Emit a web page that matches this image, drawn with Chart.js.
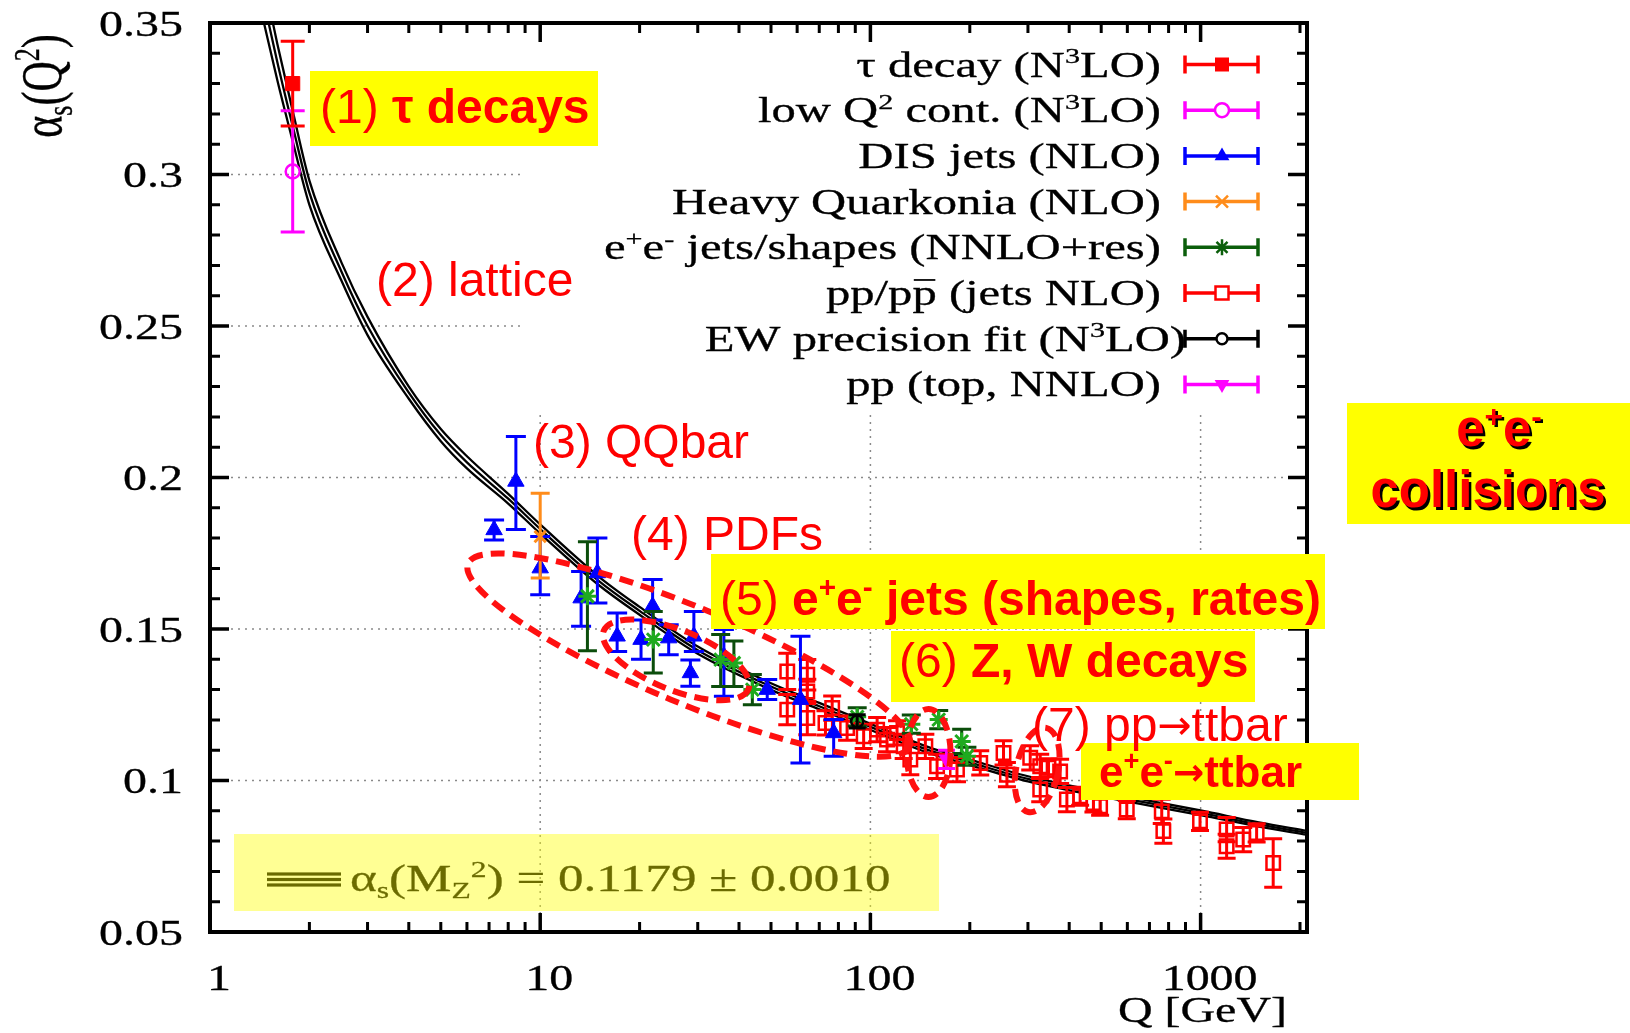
<!DOCTYPE html>
<html>
<head>
<meta charset="utf-8">
<script src="https://cdn.jsdelivr.net/npm/chart.js@4.4.1/dist/chart.umd.min.js"></script>
<style>
  html,body{margin:0;padding:0;background:#fff}
  #wrap{width:1630px;height:1033px;position:relative}
</style>
</head>
<body>
<div id="wrap"><canvas id="c" width="1630" height="1033"></canvas></div>
<script>
// ---- data (Q in GeV, alpha_s) ----
const curveQ     = [1.45, 1.6, 1.78, 2, 2.5, 3, 4, 5, 6, 8, 10, 15, 20, 30, 50, 70, 91.2, 150, 200, 300, 500, 700, 1000, 1500, 2100];
const curveMid   = [0.358, 0.337, 0.316, 0.294, 0.268, 0.250, 0.228, 0.214, 0.205, 0.193, 0.183, 0.166, 0.156, 0.143, 0.131, 0.1245, 0.1195, 0.110, 0.106, 0.1005, 0.0955, 0.0925, 0.0893, 0.0855, 0.0827];
const curveUpper = [0.365, 0.343, 0.321, 0.298, 0.271, 0.253, 0.230, 0.216, 0.207, 0.1946, 0.1845, 0.1674, 0.1573, 0.1442, 0.1321, 0.1256, 0.1205, 0.1110, 0.1069, 0.1014, 0.0963, 0.0933, 0.0901, 0.0862, 0.0834];
const curveLower = [0.351, 0.331, 0.311, 0.290, 0.265, 0.247, 0.226, 0.212, 0.203, 0.1914, 0.1815, 0.1646, 0.1547, 0.1418, 0.1299, 0.1235, 0.1185, 0.1091, 0.1051, 0.0997, 0.0947, 0.0917, 0.0886, 0.0848, 0.0821];

const tauQ = [1.78], tauA = [0.330], tauErr = [0.014];
const lowQ2Q = [1.78], lowQ2A = [0.301], lowQ2Err = [0.020];

const disQ  = [7.25, 8.44, 10.0, 13.3, 14.9, 17.1, 20.2, 21.9, 24.5, 29.2, 28.5, 36.0, 48.7, 61.4, 77.4];
const disA  = [0.1827, 0.1987, 0.1701, 0.1602, 0.1685, 0.1476, 0.1465, 0.1575, 0.147, 0.1476, 0.1355, 0.141, 0.130, 0.1267, 0.1157];
const disUp = [0.0033, 0.0148, 0.0104, 0.0088, 0.0115, 0.0077, 0.0065, 0.0088, 0.0044, 0.0082, 0.0043, 0.0088, 0.0033, 0.0209, 0.0044];
const disDn = [0.0033, 0.0159, 0.0088, 0.0093, 0.0099, 0.0050, 0.0065, 0.0045, 0.0055, 0.0050, 0.0044, 0.0132, 0.0033, 0.0209, 0.0077];

const hqQ = [10.0], hqA = [0.1805], hqUp = [0.0143], hqDn = [0.0137];

const eeQ  = [13.9, 22.0, 35.2, 38.6, 43.9, 91.2, 133, 161, 189, 196];
const eeA  = [0.1608, 0.1465, 0.1399, 0.1388, 0.130, 0.121, 0.1186, 0.1201, 0.1129, 0.108];
const eeUp = [0.018, 0.0093, 0.0083, 0.0072, 0.005, 0.003, 0.003, 0.003, 0.004, 0.003];
const eeDn = [0.018, 0.0110, 0.0089, 0.0078, 0.005, 0.003, 0.003, 0.003, 0.004, 0.003];

const ppQ   = [56.0, 56.0, 64.4, 64.4, 64.4, 76.6, 73.1, 85.0, 95.4, 104.8, 112.3, 120.4, 126.1, 132.1, 146.7, 159.2, 182.9, 215.1, 253.0, 259.1, 304.8, 326.8, 346.2, 375.5, 326.8, 393.6, 431.7, 473.6, 496.2, 597.6, 762.6, 771.3, 995.9, 1199, 1199, 1346, 1478, 1659];
const ppA   = [0.136, 0.1234, 0.1349, 0.1294, 0.1206, 0.1239, 0.119, 0.1173, 0.1146, 0.1168, 0.1135, 0.1157, 0.1113, 0.1069, 0.1113, 0.1047, 0.1036, 0.1058, 0.1091, 0.1019, 0.1075, 0.1047, 0.1042, 0.103, 0.097, 0.0937, 0.0948, 0.0926, 0.0915, 0.0904, 0.0898, 0.0833, 0.0865, 0.0838, 0.0783, 0.0805, 0.0827, 0.0728];
const ppErr = [0.006, 0.005, 0.005, 0.004, 0.0055, 0.004, 0.004, 0.004, 0.004, 0.004, 0.004, 0.004, 0.004, 0.005, 0.004, 0.004, 0.004, 0.004, 0.004, 0.004, 0.004, 0.004, 0.003, 0.004, 0.004, 0.004, 0.003, 0.003, 0.003, 0.003, 0.004, 0.004, 0.003, 0.004, 0.004, 0.004, 0.003, 0.008];

const ewQ = [91.2], ewA = [0.1195], ewErr = [0.0022];
const topQ = [170], topA = [0.107], topErr = [0.003];

const xTickValues = [1, 10, 100, 1000];
const xTickLabels = ['1', '10', '100', '1000'];
const yTickValues = [0.05, 0.1, 0.15, 0.2, 0.25, 0.3, 0.35];
const yTickLabels = ['0.05', '0.1', '0.15', '0.2', '0.25', '0.3', '0.35'];
const xGridValues = [10, 100, 1000];
const yGridValues = [0.1, 0.15, 0.2, 0.25, 0.3];

// ---- look ----
const SERIF = '"Liberation Serif", "Times New Roman", serif';
const SANS = '"Liberation Sans", Arial, sans-serif';
const ARROW = '"DejaVu Sans", sans-serif';
const SX = 1.37; // the original plot is stretched sideways

function pts(qs, as){ return qs.map((q, i) => ({x: q, y: as[i]})); }

// small rich-text writer: segments with sup / sub / bold / overline / own font
function rich(ctx, segs, x, y, o){
  const sx = o.sx || 1;
  segs = segs.map(s => typeof s === 'string' ? {t: s} : s);
  const fontOf = s => ((s.b || o.bold) ? 'bold ' : '') + ((s.sup || s.sub) ? o.size * 0.62 : o.size * (s.k || 1)) + 'px ' + (s.f || o.family);
  let w = 0;
  segs.forEach(s => { ctx.font = fontOf(s); s.w = ctx.measureText(s.t).width; w += s.w; });
  let x0 = x;
  if(o.align === 'right') x0 = x - w * sx;
  else if(o.align === 'center') x0 = x - w * sx / 2;
  ctx.save();
  ctx.translate(x0, y); ctx.scale(sx, 1);
  ctx.fillStyle = o.color || '#000';
  ctx.strokeStyle = o.color || '#000';
  ctx.lineWidth = o.heavy || 0;
  ctx.textAlign = 'left'; ctx.textBaseline = 'alphabetic';
  let cx = 0;
  segs.forEach(s => {
    ctx.font = fontOf(s);
    const dy = s.sup ? -o.size * 0.38 : (s.sub ? o.size * 0.2 : (s.dy || 0));
    ctx.fillText(s.t, cx, dy);
    if(o.heavy) ctx.strokeText(s.t, cx, dy);
    if(s.over) ctx.fillRect(cx + 1, -o.size * 0.74, s.w - 2, Math.max(1.5, o.size * 0.05));
    cx += s.w;
  });
  ctx.restore();
  return w * sx;
}

function marker(ctx, kind, x, y, color){
  ctx.save();
  ctx.strokeStyle = color; ctx.fillStyle = color; ctx.lineWidth = 2.5;
  ctx.beginPath();
  if(kind === 'rectFill'){ ctx.fillRect(x - 7, y - 7, 14, 14); }
  else if(kind === 'rectOpen'){ ctx.fillStyle = '#fff'; ctx.fillRect(x - 6.5, y - 6.5, 13, 13); ctx.strokeRect(x - 6.5, y - 6.5, 13, 13); }
  else if(kind === 'circle'){ ctx.fillStyle = '#fff'; ctx.arc(x, y, 7, 0, Math.PI * 2); ctx.fill(); ctx.stroke(); }
  else if(kind === 'circleSmall'){ ctx.fillStyle = '#fff'; ctx.arc(x, y, 5.5, 0, Math.PI * 2); ctx.fill(); ctx.stroke(); }
  else if(kind === 'tri'){ ctx.moveTo(x, y - 8.5); ctx.lineTo(x + 7.4, y + 4.3); ctx.lineTo(x - 7.4, y + 4.3); ctx.closePath(); ctx.fill(); }
  else if(kind === 'triDown'){ ctx.moveTo(x, y + 8.5); ctx.lineTo(x + 7.4, y - 4.3); ctx.lineTo(x - 7.4, y - 4.3); ctx.closePath(); ctx.fill(); }
  else if(kind === 'x'){ ctx.moveTo(x - 6, y - 6); ctx.lineTo(x + 6, y + 6); ctx.moveTo(x + 6, y - 6); ctx.lineTo(x - 6, y + 6); ctx.stroke(); }
  else if(kind === 'star'){
    ctx.moveTo(x - 5.5, y - 5.5); ctx.lineTo(x + 5.5, y + 5.5); ctx.moveTo(x + 5.5, y - 5.5); ctx.lineTo(x - 5.5, y + 5.5);
    ctx.moveTo(x, y - 8); ctx.lineTo(x, y + 8); ctx.moveTo(x - 8, y); ctx.lineTo(x + 8, y); ctx.stroke();
  }
  ctx.restore();
}

// legend rows: text, colour, marker
const legendText = [
  ['τ decay (N', {t:'3', sup:true}, 'LO)'],
  ['low Q', {t:'2', sup:true}, ' cont. (N', {t:'3', sup:true}, 'LO)'],
  ['DIS jets (NLO)'],
  ['Heavy Quarkonia (NLO)'],
  ['e', {t:'+', sup:true}, 'e', {t:'-', sup:true}, ' jets/shapes (NNLO+res)'],
  ['pp/p', {t:'p', over:true}, ' (jets NLO)'],
  ['EW precision fit (N', {t:'3', sup:true}, 'LO)'],
  ['pp (top, NNLO)']
];
const legendColor = ['#ff0000', '#ff00ff', '#0000ff', '#ff8c1a', '#0b5e0b', '#ff0000', '#000000', '#ff00ff'];
const legendMarker = ['rectFill', 'circle', 'tri', 'x', 'star', 'rectOpen', 'circleSmall', 'triDown'];

// error bars go under each dataset's markers
const errorBars = {
  id: 'errorBars',
  beforeDatasetDraw(chart, args){
    const ds = chart.data.datasets[args.index];
    if(!ds.errUp) return;
    const ctx = chart.ctx, ys = chart.scales.y;
    ctx.save();
    ctx.strokeStyle = ds.barColor; ctx.lineWidth = 3;
    args.meta.data.forEach((pt, i) => {
      const v = ds.data[i].y;
      const top = ys.getPixelForValue(v + ds.errUp[i]);
      const bot = ys.getPixelForValue(v - ds.errDn[i]);
      const w = ds.capWidth / 2;
      ctx.beginPath();
      ctx.moveTo(pt.x, top); ctx.lineTo(pt.x, bot);
      ctx.moveTo(pt.x - w, top); ctx.lineTo(pt.x + w, top);
      ctx.moveTo(pt.x - w, bot); ctx.lineTo(pt.x + w, bot);
      ctx.stroke();
    });
    ctx.restore();
  }
};

// dotted grid and the white legend panel
const backdrop = {
  id: 'backdrop',
  beforeDatasetsDraw(chart){
    const {ctx, chartArea: a, scales: {x, y}} = chart;
    ctx.save();
    ctx.strokeStyle = '#8a8a8a'; ctx.lineWidth = 1.5; ctx.setLineDash([2, 5]);
    yGridValues.forEach(v => { const p = y.getPixelForValue(v); ctx.beginPath(); ctx.moveTo(a.left, p); ctx.lineTo(a.right, p); ctx.stroke(); });
    xGridValues.forEach(v => { const p = x.getPixelForValue(v); ctx.beginPath(); ctx.moveTo(p, a.top); ctx.lineTo(p, a.bottom); ctx.stroke(); });
    ctx.setLineDash([]);
    ctx.fillStyle = '#fff';
    ctx.fillRect(525, a.top + 2, a.right - 525, 408 - a.top);
    ctx.restore();
  }
};

// frame, ticks, labels, legend and the slide annotations
const overlay = {
  id: 'overlay',
  afterDatasetsDraw(chart){
    const {ctx, chartArea: a, scales: {x, y}} = chart;
    ctx.save();
    // ticks (inward, mirrored)
    ctx.strokeStyle = '#000';
    for(let i = 6; i < 35; i++){
      const major = i % 5 === 0, len = major ? 19 : 10, p = y.getPixelForValue(i / 100);
      ctx.lineWidth = major ? 3.5 : 3;
      ctx.beginPath(); ctx.moveTo(a.left, p); ctx.lineTo(a.left + len, p); ctx.moveTo(a.right, p); ctx.lineTo(a.right - len, p); ctx.stroke();
    }
    for(let n = 0; n < 4; n++){
      for(let k = 1; k < 10; k++){
        const v = k * Math.pow(10, n);
        if(v <= 1 || v >= 2100) continue;
        const major = k === 1, len = major ? 19 : 10, p = x.getPixelForValue(v);
        ctx.lineWidth = major ? 3.5 : 3;
        ctx.beginPath(); ctx.moveTo(p, a.bottom); ctx.lineTo(p, a.bottom - len); ctx.moveTo(p, a.top); ctx.lineTo(p, a.top + len); ctx.stroke();
      }
    }
    ctx.lineWidth = 4;
    ctx.strokeRect(a.left, a.top, a.right - a.left, a.bottom - a.top);

    const serif = {size: 35, family: SERIF, sx: SX, heavy: 0.3};
    // tick labels
    yTickValues.forEach((v, i) => rich(ctx, [yTickLabels[i]], 183, y.getPixelForValue(v) + 12.5, {...serif, align: 'right'}));
    xTickValues.forEach((v, i) => rich(ctx, [xTickLabels[i]], x.getPixelForValue(v) + 9, 990, {...serif, align: 'center'}));
    rich(ctx, ['Q [GeV]'], 1287, 1022, {...serif, align: 'right'});
    ctx.save();
    ctx.translate(61, 86); ctx.rotate(-Math.PI / 2); ctx.scale(1, 1.35);
    rich(ctx, ['α', {t:'s', sub:true}, '(Q', {t:'2', sup:true}, ')'], 0, 0, {size: 42, family: SERIF, align: 'center', heavy: 0.3});
    ctx.restore();

    // legend
    legendText.forEach((segs, i) => {
      const ly = 64.5 + i * 45.7;
      rich(ctx, segs, i === 6 ? 1186 : 1161, ly + 12, {size: 35, family: SERIF, sx: 1.39, align: 'right', heavy: 0.3});
      ctx.strokeStyle = legendColor[i]; ctx.lineWidth = 3.5;
      ctx.beginPath();
      ctx.moveTo(1185, ly); ctx.lineTo(1258, ly);
      ctx.moveTo(1185, ly - 9); ctx.lineTo(1185, ly + 9);
      ctx.moveTo(1258, ly - 9); ctx.lineTo(1258, ly + 9);
      ctx.stroke();
      marker(ctx, legendMarker[i], 1222, ly, legendColor[i]);
    });

    // fit result label under a see-through yellow highlight
    ctx.fillStyle = '#000';
    [874, 879.5, 885].forEach(ly => ctx.fillRect(267, ly - 1.6, 74, 3.2));
    rich(ctx, ['α', {t:'s', sub:true}, '(M', {t:'Z', sub:true}, {t:'2', sup:true}, ') = 0.1179 ± 0.0010'], 350, 891, {size: 37, family: SERIF, sx: 1.38, heavy: 0.3});
    ctx.fillStyle = 'rgba(255,255,0,0.42)';
    ctx.fillRect(234, 834, 705, 77);

    // dashed red ellipses (centres in data space)
    ctx.strokeStyle = '#ff1010'; ctx.lineWidth = 6; ctx.setLineDash([14, 8]);
    [[28.2, 0.1414, 239, 48, 22.5], [25.8, 0.1398, 78, 30, 22], [150, 0.1091, 22, 44, 0], [320, 0.1035, 21, 43, 12]].forEach(e => {
      ctx.beginPath();
      ctx.ellipse(x.getPixelForValue(e[0]), y.getPixelForValue(e[1]), e[2], e[3], e[4] * Math.PI / 180, 0, Math.PI * 2);
      ctx.stroke();
    });
    ctx.setLineDash([]);

    // yellow boxes
    ctx.fillStyle = '#ffff00';
    [[310, 71, 288, 75], [711, 554, 614, 75], [891, 631, 364, 71], [1081, 743, 278, 57], [1347, 403, 283, 121]].forEach(b => ctx.fillRect(b[0], b[1], b[2], b[3]));

    const red = {size: 48, family: SANS, color: '#ff0000'};
    rich(ctx, ['(1) ', {t:'τ decays', b:true}], 320, 123, red);
    rich(ctx, ['(2) lattice'], 376, 296, red);
    rich(ctx, ['(3) QQbar'], 533, 458, red);
    rich(ctx, ['(4) PDFs'], 631, 550, red);
    rich(ctx, ['(5) ', {t:'e', b:true}, {t:'+', b:true, sup:true}, {t:'e', b:true}, {t:'-', b:true, sup:true}, {t:' jets (shapes, rates)', b:true}], 720, 615, red);
    rich(ctx, ['(6) ', {t:'Z, W decays', b:true}], 899, 677, red);
    rich(ctx, ['(7) pp', {t:'→', f:ARROW, k:0.85, dy:-2}, 'ttbar'], 1032, 741, red);
    rich(ctx, [{t:'e', b:true}, {t:'+', b:true, sup:true}, {t:'e', b:true}, {t:'-', b:true, sup:true}, {t:'→', b:true, f:ARROW, k:0.85, dy:-2}, {t:'ttbar', b:true}], 1099, 787, {size: 44, family: SANS, color: '#ff0000'});
    const ee = [{t:'e'}, {t:'+', sup:true}, {t:'e'}, {t:'-', sup:true}];
    [['#000', 2.5], ['#ff0000', 0]].forEach(c => {
      rich(ctx, ee, 1499 + c[1], 446 + c[1], {size: 51, family: SANS, bold: true, color: c[0], align: 'center'});
      rich(ctx, ['collisions'], 1488 + c[1], 507 + c[1], {size: 51, family: SANS, bold: true, color: c[0], align: 'center'});
    });
    ctx.restore();
  }
};

const curveStyle = {type: 'line', showLine: true, borderColor: '#000', borderWidth: 2.3, pointRadius: 0, fill: false, cubicInterpolationMode: 'monotone', order: 10, clip: 0};

new Chart(document.getElementById('c'), {
  type: 'scatter',
  data: {
    datasets: [
      {data: pts(tauQ, tauA), pointStyle: 'rect', pointRadius: 10, pointBackgroundColor: '#ff0000', pointBorderColor: '#ff0000', pointBorderWidth: 1, errUp: tauErr, errDn: tauErr, barColor: '#ff0000', capWidth: 24},
      {data: pts(lowQ2Q, lowQ2A), pointStyle: 'circle', pointRadius: 7, pointBackgroundColor: 'rgba(0,0,0,0)', pointBorderColor: '#ff00ff', pointBorderWidth: 2.5, errUp: lowQ2Err, errDn: lowQ2Err, barColor: '#ff00ff', capWidth: 24},
      {data: pts(topQ, topA), pointStyle: 'triangle', pointRotation: 180, pointRadius: 8.5, pointBackgroundColor: '#ff00ff', pointBorderColor: '#ff00ff', pointBorderWidth: 1, errUp: topErr, errDn: topErr, barColor: '#ff00ff', capWidth: 17},
      {data: pts(ewQ, ewA), pointStyle: 'circle', pointRadius: 6, pointBackgroundColor: 'rgba(0,0,0,0)', pointBorderColor: '#000', pointBorderWidth: 2.5, errUp: ewErr, errDn: ewErr, barColor: '#000', capWidth: 17},
      {data: pts(eeQ, eeA), pointStyle: 'star', pointRadius: 9, pointBorderColor: '#1faa1f', pointBackgroundColor: '#1faa1f', pointBorderWidth: 3, errUp: eeUp, errDn: eeDn, barColor: '#0b4d0b', capWidth: 19},
      {data: pts(hqQ, hqA), pointStyle: 'crossRot', pointRadius: 8, pointBorderColor: '#ff8c1a', pointBorderWidth: 3, errUp: hqUp, errDn: hqDn, barColor: '#ff8c1a', capWidth: 19},
      {data: pts(disQ, disA), pointStyle: 'triangle', pointRadius: 9.5, pointBackgroundColor: '#0000ff', pointBorderColor: '#0000ff', pointBorderWidth: 1, errUp: disUp, errDn: disDn, barColor: '#0000ff', capWidth: 20},
      {data: pts(ppQ, ppA), pointStyle: 'rect', pointRadius: 9.5, pointBackgroundColor: 'rgba(0,0,0,0)', pointBorderColor: '#ff0000', pointBorderWidth: 2.5, errUp: ppErr, errDn: ppErr, barColor: '#ff0000', capWidth: 18},
      {...curveStyle, data: pts(curveQ, curveUpper)},
      {...curveStyle, data: pts(curveQ, curveMid)},
      {...curveStyle, data: pts(curveQ, curveLower)}
    ]
  },
  options: {
    responsive: false,
    animation: false,
    devicePixelRatio: 1,
    events: [],
    layout: {padding: {left: 210, right: 323, top: 23, bottom: 101}},
    scales: {
      x: {type: 'logarithmic', min: 1, max: 2100, display: false},
      y: {type: 'linear', min: 0.05, max: 0.35, display: false}
    },
    plugins: {legend: {display: false}, tooltip: {enabled: false}}
  },
  plugins: [backdrop, errorBars, overlay]
});
</script>
</body>
</html>
